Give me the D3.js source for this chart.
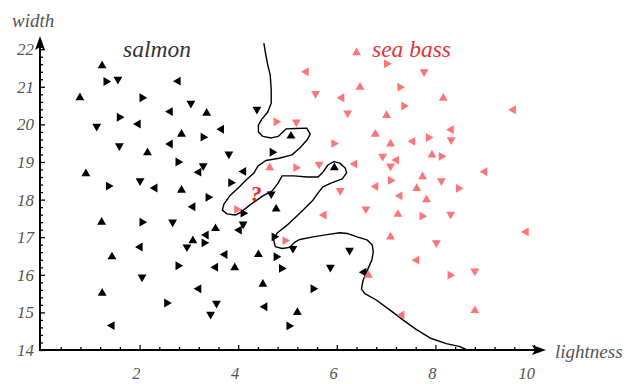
<!DOCTYPE html>
<html>
<head>
<meta charset="utf-8">
<script src="https://cdn.jsdelivr.net/npm/d3@7"></script>
<style>
  body { margin: 0; background: #fff; }
  svg text { font-family: "Liberation Serif", "DejaVu Serif", serif; font-style: italic; }
</style>
</head>
<body>
<div id="chart"></div>
<script>
// salmon samples [lightness, width]
const salmon = [
  [1.24, 21.56], [1.32, 21.14], [1.56, 21.20], [2.78, 21.15], [0.79, 20.71], [2.05, 20.71],
  [3.04, 20.56], [2.62, 20.34], [3.36, 20.30], [1.59, 20.19], [1.13, 19.95], [1.97, 20.01],
  [2.85, 19.74], [3.29, 19.66], [1.59, 19.43], [2.62, 19.48], [2.16, 19.25], [2.78, 19.00],
  [3.29, 18.90], [3.20, 18.73], [0.91, 18.69], [1.37, 18.36], [2.01, 18.50], [2.31, 18.31],
  [2.85, 18.25], [3.39, 18.06], [4.38, 20.40], [3.66, 19.87], [5.07, 19.69], [4.69, 19.26],
  [3.81, 19.21], [4.11, 18.75], [5.95, 18.85], [3.85, 18.45], [4.67, 18.15], [3.08, 17.81],
  [1.23, 17.40], [2.05, 17.40], [2.67, 17.40], [3.35, 17.06], [3.08, 16.91], [3.31, 16.85],
  [2.96, 16.74], [2.01, 16.74], [1.44, 16.48], [2.78, 16.24], [2.05, 15.94], [3.20, 15.63],
  [1.24, 15.51], [2.55, 15.25], [3.44, 14.95], [1.44, 14.65], [4.77, 17.75], [4.10, 17.64],
  [4.10, 17.35], [4.02, 17.19], [3.54, 17.23], [4.73, 17.01], [5.11, 16.70], [3.73, 16.54],
  [4.41, 16.54], [4.77, 16.48], [6.26, 16.65], [3.54, 16.20], [3.93, 16.19], [4.88, 16.17],
  [5.87, 16.20], [6.55, 16.07], [4.50, 15.75], [5.52, 15.63], [3.56, 15.24], [4.54, 15.15],
  [5.20, 15.00], [5.03, 14.64]
];

// sea bass samples [lightness, width]
const seaBass = [
  [6.40, 21.91], [7.01, 21.61], [7.77, 21.40], [5.38, 21.40], [6.47, 20.99], [7.28, 20.99],
  [5.57, 20.82], [6.10, 20.71], [8.16, 20.70], [7.36, 20.49], [6.22, 20.30], [9.58, 20.39],
  [7.01, 20.24], [4.77, 20.07], [5.18, 20.06], [8.32, 19.86], [6.78, 19.74], [7.86, 19.65],
  [8.32, 19.59], [7.54, 19.55], [7.09, 19.48], [5.94, 19.49], [6.93, 19.15], [7.21, 19.05],
  [7.93, 19.19], [8.12, 19.15], [5.64, 18.94], [6.36, 18.95], [4.64, 18.85], [5.17, 18.85],
  [7.09, 18.89], [9.00, 18.74], [7.74, 18.61], [7.09, 18.51], [8.12, 18.50], [6.79, 18.35],
  [7.62, 18.30], [8.47, 18.30], [6.07, 18.24], [7.28, 18.10], [7.82, 18.00], [3.97, 17.74],
  [6.59, 17.75], [5.74, 17.59], [7.24, 17.61], [7.73, 17.56], [8.31, 17.61], [9.84, 17.14],
  [7.09, 17.01], [4.95, 16.91], [8.02, 16.85], [7.62, 16.39], [6.64, 15.99], [8.30, 15.99],
  [8.80, 16.10], [7.32, 14.93], [8.80, 15.05]
];

// decision boundary
const boundary = [
  [4.52, 22.16], [4.56, 21.85], [4.60, 21.58], [4.65, 21.31], [4.67, 20.91], [4.67, 20.57],
  [4.60, 20.33], [4.48, 20.14], [4.41, 19.98], [4.41, 19.80], [4.50, 19.68], [4.67, 19.64],
  [4.81, 19.68], [4.97, 19.88], [5.17, 19.89], [5.39, 19.90], [5.46, 19.74], [5.40, 19.59],
  [5.25, 19.37], [5.09, 19.19], [4.83, 19.10], [4.56, 19.04], [4.40, 18.89], [4.32, 18.71],
  [4.16, 18.52], [4.00, 18.31], [3.83, 18.10], [3.71, 17.88], [3.68, 17.72], [3.77, 17.62],
  [3.94, 17.59], [4.06, 17.67], [4.24, 17.86], [4.50, 18.10], [4.69, 18.23], [4.81, 18.44],
  [4.89, 18.63], [5.13, 18.63], [5.40, 18.60], [5.62, 18.60], [5.72, 18.73], [5.82, 18.92],
  [5.94, 19.01], [6.06, 18.97], [6.17, 18.84], [6.20, 18.71], [6.11, 18.55], [5.88, 18.44],
  [5.72, 18.34], [5.62, 18.18], [5.52, 17.99], [5.25, 17.64], [4.99, 17.32], [4.79, 17.11],
  [4.72, 16.93], [4.75, 16.75], [4.89, 16.70], [5.05, 16.73], [5.15, 16.87], [5.25, 16.94],
  [5.52, 17.01], [5.80, 17.07], [6.06, 17.12], [6.21, 17.10], [6.41, 17.01], [6.61, 16.93],
  [6.72, 16.79], [6.74, 16.61], [6.71, 16.39], [6.65, 16.21], [6.59, 16.02], [6.53, 15.84],
  [6.50, 15.62], [6.57, 15.50], [6.80, 15.33], [7.08, 15.06], [7.34, 14.80], [7.61, 14.55],
  [7.89, 14.32], [8.22, 14.17], [8.50, 14.09], [8.64, 14.00]
];

const unknownPoint = [4.36, 18.12];

const xTicks = [2, 4, 6, 8, 10];
const yTicks = [14, 15, 16, 17, 18, 19, 20, 21, 22];

const width = 627, height = 384;
const svg = d3.select('#chart').append('svg').attr('width', width).attr('height', height);

const xScale = d3.scaleLinear().domain([0, 10]).range([41, 534]);
const yScale = d3.scaleLinear().domain([14, 22]).range([350, 49.2]);

const axisColor = '#000';
const labelColor = '#555';

// minor ticks
const xMinor = d3.range(0.4, 10, 0.4).filter(v => Math.abs(v / 2 - Math.round(v / 2)) > 0.01);
const yMinor = d3.range(14.2, 22, 0.2).filter(v => Math.abs(v - Math.round(v)) > 0.01);

const gx = svg.append('g').attr('transform', 'translate(0,' + yScale(14) + ')');
gx.call(d3.axisBottom(xScale).tickValues(xTicks).tickSize(-5).tickFormat(''));
gx.append('g').call(d3.axisBottom(xScale).tickValues(xMinor).tickSize(-3).tickFormat(''));
gx.selectAll('.domain').remove();
gx.selectAll('line').attr('stroke', axisColor).attr('stroke-width', 1.3);

const gy = svg.append('g').attr('transform', 'translate(40,0)');
gy.call(d3.axisLeft(yScale).tickValues(yTicks).tickSize(-5).tickFormat(''));
gy.append('g').call(d3.axisLeft(yScale).tickValues(yMinor).tickSize(-3).tickFormat(''));
gy.selectAll('.domain').remove();
gy.selectAll('line').attr('stroke', axisColor).attr('stroke-width', 1.3);

// axis lines with arrowheads
svg.append('line').attr('x1', 40).attr('x2', 540).attr('y1', 350).attr('y2', 350)
  .attr('stroke', axisColor).attr('stroke-width', 2);
svg.append('path').attr('d', 'M546,350 L532,345 L535,350 L532,355 Z').attr('fill', axisColor);
svg.append('line').attr('x1', 40).attr('x2', 40).attr('y1', 351).attr('y2', 42)
  .attr('stroke', axisColor).attr('stroke-width', 2);
svg.append('path').attr('d', 'M40,36 L35,50 L40,47 L45,50 Z').attr('fill', axisColor);

// tick labels
svg.append('g').selectAll('text').data(xTicks).enter().append('text')
  .attr('x', d => xScale(d) + 1).attr('y', 379)
  .attr('text-anchor', 'end').attr('font-size', 16.5).attr('fill', labelColor)
  .text(d => d);
svg.append('g').selectAll('text').data(yTicks).enter().append('text')
  .attr('x', 34).attr('y', d => yScale(d) + 6)
  .attr('text-anchor', 'end').attr('font-size', 17).attr('fill', labelColor)
  .text(d => d);

svg.append('text').attr('x', 12).attr('y', 27).attr('font-size', 19).attr('fill', labelColor).text('width');
svg.append('text').attr('x', 555).attr('y', 358).attr('font-size', 19).attr('fill', labelColor).text('lightness');

svg.append('text').attr('x', 123).attr('y', 57).attr('font-size', 23.5).attr('fill', '#333').text('salmon');
svg.append('text').attr('x', 372).attr('y', 57).attr('font-size', 23.5).attr('fill', '#e8323c').text('sea bass');

// decision boundary
const line = d3.line().x(d => xScale(d[0])).y(d => yScale(d[1]));
svg.append('path').attr('d', line(boundary))
  .attr('fill', 'none').attr('stroke', '#000').attr('stroke-width', 1.4)
  .attr('stroke-linejoin', 'round');

// markers
const marker = d3.symbol().type(d3.symbolTriangle).size(34);
function drawPoints(data, color) {
  svg.append('g').selectAll('path').data(data).enter().append('path')
    .attr('d', marker)
    .attr('transform', (d, i) => 'translate(' + xScale(d[0]) + ',' + yScale(d[1]) + ') rotate(' + ((i * 90) % 360) + ')')
    .attr('fill', color);
}
drawPoints(salmon, '#000');
drawPoints(seaBass, '#ff7474');

svg.append('text').attr('x', xScale(unknownPoint[0])).attr('y', yScale(unknownPoint[1]) + 6)
  .attr('text-anchor', 'middle').attr('font-size', 22).attr('font-weight', 'bold')
  .attr('font-style', 'normal').attr('fill', '#ff1a1a').text('?');
</script>
</body>
</html>
